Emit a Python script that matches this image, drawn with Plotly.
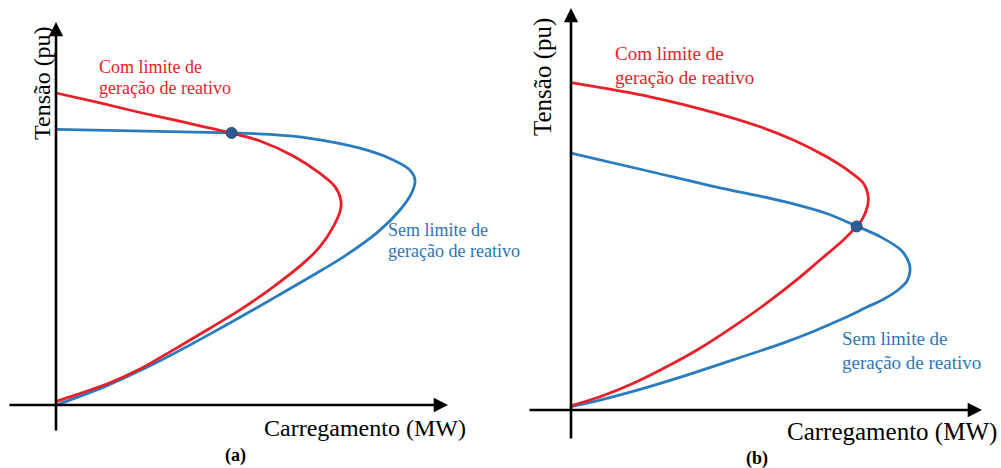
import plotly.graph_objects as go

W, H = 1001, 468

# ---------------- Panel (a) ----------------
# Loading (arbitrary MW units) and voltage (pu) along each P-V curve,
# from the upper branch through the nose down to the lower branch
a_red_L = [0, 11, 21, 32.25, 43.9, 51, 59.3, 66, 69.75, 71.2, 71.1, 69.3, 66, 62.7,
           54.25, 46, 37.75, 29.25, 21, 12.75, 4.75, 0.25]
a_red_V = [1.04, 1.007, 0.975, 0.942, 0.906, 0.88, 0.83, 0.772, 0.728, 0.683, 0.65, 0.594, 0.528, 0.483,
           0.393, 0.317, 0.25, 0.183, 0.12, 0.07, 0.033, 0.013]

a_blue_L = [0, 22.25, 43.9, 53.5, 63.5, 76, 84.3, 88.5, 89.75, 88.9, 86, 80.5, 72.25,
            66.5, 55.25, 47, 38, 29.25, 20.75, 12.5, 4.75, 0]
a_blue_V = [0.919, 0.913, 0.907, 0.902, 0.889, 0.856, 0.817, 0.783, 0.75, 0.706, 0.65, 0.577, 0.497,
            0.45, 0.363, 0.3, 0.233, 0.17, 0.113, 0.063, 0.023, 0.0]

a_cross_L = [43.9]
a_cross_V = [0.907]

# ---------------- Panel (b) ----------------
b_red_L = [0, 19.75, 36.4, 47.25, 55.6, 63.9, 69.75, 73.1, 74.3, 74.1, 72.7, 71.4, 68.1, 62.25,
           57.25, 48.9, 40.6, 32.25, 23.9, 15.6, 7.25, 0]
b_red_V = [1.091, 1.044, 0.989, 0.944, 0.9, 0.844, 0.794, 0.756, 0.711, 0.678, 0.633, 0.612, 0.567, 0.5,
           0.443, 0.356, 0.278, 0.206, 0.144, 0.089, 0.044, 0.014]

b_blue_L = [0, 19.75, 36.4, 47.25, 55.6, 63.9, 71.4, 77.25, 82.5, 84.5, 84.75, 84, 81.75, 78.25,
            74, 67.75, 60.25, 53, 40.5, 28, 15.5, 7.25, 0]
b_blue_V = [0.856, 0.795, 0.743, 0.713, 0.687, 0.655, 0.613, 0.578, 0.533, 0.49, 0.462, 0.43, 0.4, 0.37,
            0.343, 0.303, 0.26, 0.223, 0.167, 0.112, 0.062, 0.033, 0.011]

b_cross_L = [71.4]
b_cross_V = [0.612]

# Text
y_title = "Tensão (pu)"
x_title = "Carregamento (MW)"
lbl_com = ["Com limite de", "geração de reativo"]
lbl_sem = ["Sem limite de", "geração de reativo"]

RED = "#e8202a"
BLUE = "#2b7bbf"
RED_TXT = "#e3242b"
BLUE_TXT = "#2f75b5"
DOT = "#2f5a8f"
SERIF = "Times New Roman"

fig = go.Figure()

def curve(L, V, color, xa, ya):
    fig.add_trace(go.Scatter(
        x=L, y=V, mode="lines", xaxis=xa, yaxis=ya,
        line=dict(color=color, width=2.8, shape="spline", smoothing=0.9),
        hoverinfo="skip", showlegend=False))

def dot(L, V, xa, ya):
    fig.add_trace(go.Scatter(
        x=L, y=V, mode="markers", xaxis=xa, yaxis=ya,
        marker=dict(color=DOT, size=11, line=dict(color="#25487a", width=1)),
        hoverinfo="skip", showlegend=False))

curve(a_blue_L, a_blue_V, BLUE, "x", "y")
curve(a_red_L, a_red_V, RED, "x", "y")
dot(a_cross_L, a_cross_V, "x", "y")

curve(b_blue_L, b_blue_V, BLUE, "x2", "y2")
curve(b_red_L, b_red_V, RED, "x2", "y2")
dot(b_cross_L, b_cross_V, "x2", "y2")

# pixel scale: 4 px per loading unit, 300 px per pu
PX_L, PX_V = 4.0, 300.0
a_org = (56, 405)
b_org = (571, 410)
split = 500

hidden = dict(visible=False, showgrid=False, zeroline=False)
fig.update_layout(
    width=W, height=H,
    margin=dict(l=0, r=0, t=0, b=0),
    paper_bgcolor="white", plot_bgcolor="white",
    font=dict(family=SERIF),
    xaxis=dict(domain=[0, split / W],
               range=[(0 - a_org[0]) / PX_L, (split - a_org[0]) / PX_L], **hidden),
    yaxis=dict(domain=[0, 1],
               range=[(a_org[1] - H) / PX_V, a_org[1] / PX_V], **hidden),
    xaxis2=dict(domain=[split / W, 1],
                range=[(split - b_org[0]) / PX_L, (W - b_org[0]) / PX_L], **hidden),
    yaxis2=dict(domain=[0, 1], anchor="x2",
                range=[(b_org[1] - H) / PX_V, b_org[1] / PX_V], **hidden),
)

ann = []

def arrow(xa, ya, tip, tail):
    ann.append(dict(x=tip[0], y=tip[1], ax=tail[0], ay=tail[1],
                    xref=xa, yref=ya, axref=xa, ayref=ya,
                    text="", showarrow=True, arrowhead=2, arrowsize=1.1,
                    arrowwidth=2.6, arrowcolor="black", standoff=0, startstandoff=0))

def px_to_paper(px, py):
    return px / W, 1 - py / H

def text(s, px, py, size, color="black", xanchor="left", bold=False, angle=0):
    x, y = px_to_paper(px, py)
    ann.append(dict(x=x, y=y, xref="paper", yref="paper", text=(f"<b>{s}</b>" if bold else s),
                    showarrow=False, xanchor=xanchor, yanchor="middle", textangle=angle,
                    font=dict(family=SERIF, size=size, color=color)))

# axes of panel (a)
arrow("x", "y", (0, (a_org[1] - 22) / PX_V), (0, (a_org[1] - 432) / PX_V))
arrow("x", "y", ((448 - a_org[0]) / PX_L, 0), ((8 - a_org[0]) / PX_L, 0))
# axes of panel (b)
arrow("x2", "y2", (0, (b_org[1] - 8) / PX_V), (0, (b_org[1] - 440) / PX_V))
arrow("x2", "y2", ((982 - b_org[0]) / PX_L, 0), ((528 - b_org[0]) / PX_L, 0))

# labels panel (a)
text(lbl_com[0], 97, 67, 18, RED_TXT)
text(lbl_com[1], 97, 88, 18, RED_TXT)
text(lbl_sem[0], 386, 230, 18, BLUE_TXT)
text(lbl_sem[1], 386, 251, 18, BLUE_TXT)
text(x_title, 262, 428, 24)
text("(a)", 235, 455, 18, xanchor="center", bold=True)
text(y_title, 42, 83, 24, xanchor="center", angle=-90)

# labels panel (b)
text(lbl_com[0], 613, 53, 19, RED_TXT)
text(lbl_com[1], 613, 78, 19, RED_TXT)
text(lbl_sem[0], 840, 338, 19, BLUE_TXT)
text(lbl_sem[1], 840, 362, 19, BLUE_TXT)
text(x_title, 785, 432, 25)
text("(b)", 757, 458, 18, xanchor="center", bold=True)
text(y_title, 543, 77, 25, xanchor="center", angle=-90)

fig.update_layout(annotations=ann)

fig.write_html("out.html")
